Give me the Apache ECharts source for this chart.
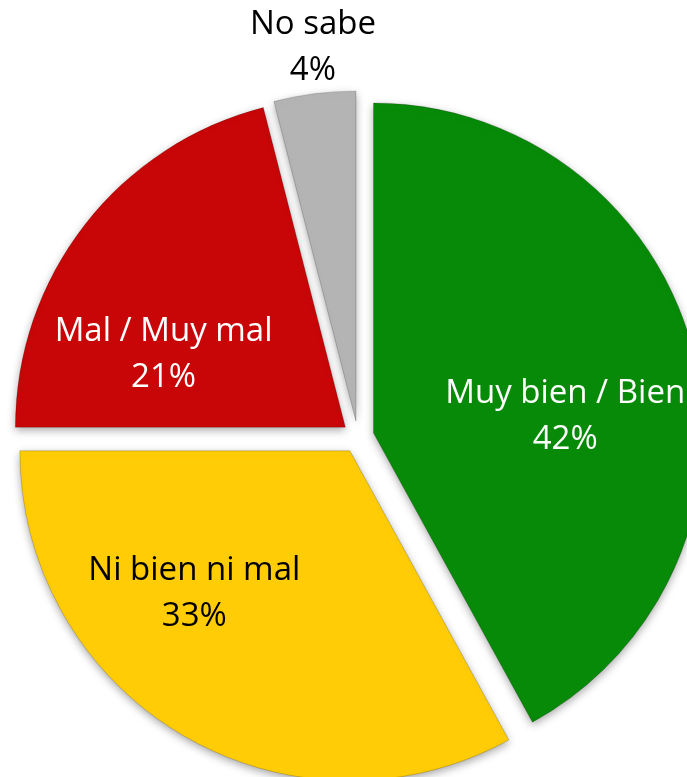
<!DOCTYPE html>
<html>
<head>
<meta charset="utf-8">
<script src="https://cdn.jsdelivr.net/npm/echarts@6/dist/echarts.min.js"></script>
<style>
  html, body { margin: 0; padding: 0; background: #ffffff; }
  #chart { width: 687px; height: 777px; }
</style>
</head>
<body>
<div id="chart"></div>
<script>
const categories = ['Muy bien / Bien', 'Ni bien ni mal', 'Mal / Muy mal', 'No sabe']
const values = [42, 33, 21, 4]
const colors = ['#078a08', '#ffcc06', '#c80607', '#b4b4b4']
const labelColors = ['#ffffff', '#000000', '#ffffff', '#000000']

// label nudges (px) relative to the default inside position
const labelNudge = [[29, 25], [-70, -2], [-49, 30], [-22, -207]]

const chart = echarts.init(document.getElementById('chart'))

const option = {
  animation: false,
  series: [
    {
      type: 'pie',
      center: [358, 437],
      radius: [0, 330],
      startAngle: 90,
      clockwise: true,
      selectedMode: 'multiple',
      selectedOffset: 16,
      avoidLabelOverlap: false,
      label: {
        show: true,
        position: 'inside',
        formatter: '{b}\n{c}%',
        fontFamily: 'Open Sans',
        fontSize: 33,
        lineHeight: 46,
        align: 'center'
      },
      labelLine: { show: false },
      labelLayout: (params) => {
        const n = labelNudge[params.dataIndex]
        return { dx: n[0], dy: n[1] }
      },
      itemStyle: {
        borderColor: 'rgba(0,0,0,0.18)',
        borderWidth: 1,
        shadowBlur: 8,
        shadowOffsetY: 3,
        shadowColor: 'rgba(0,0,0,0.35)'
      },
      emphasis: { disabled: true },
      data: categories.map((name, i) => ({
        name,
        value: values[i],
        selected: true,
        itemStyle: { color: colors[i] },
        label: { color: labelColors[i] }
      }))
    }
  ]
}

chart.setOption(option)
</script>
</body>
</html>
